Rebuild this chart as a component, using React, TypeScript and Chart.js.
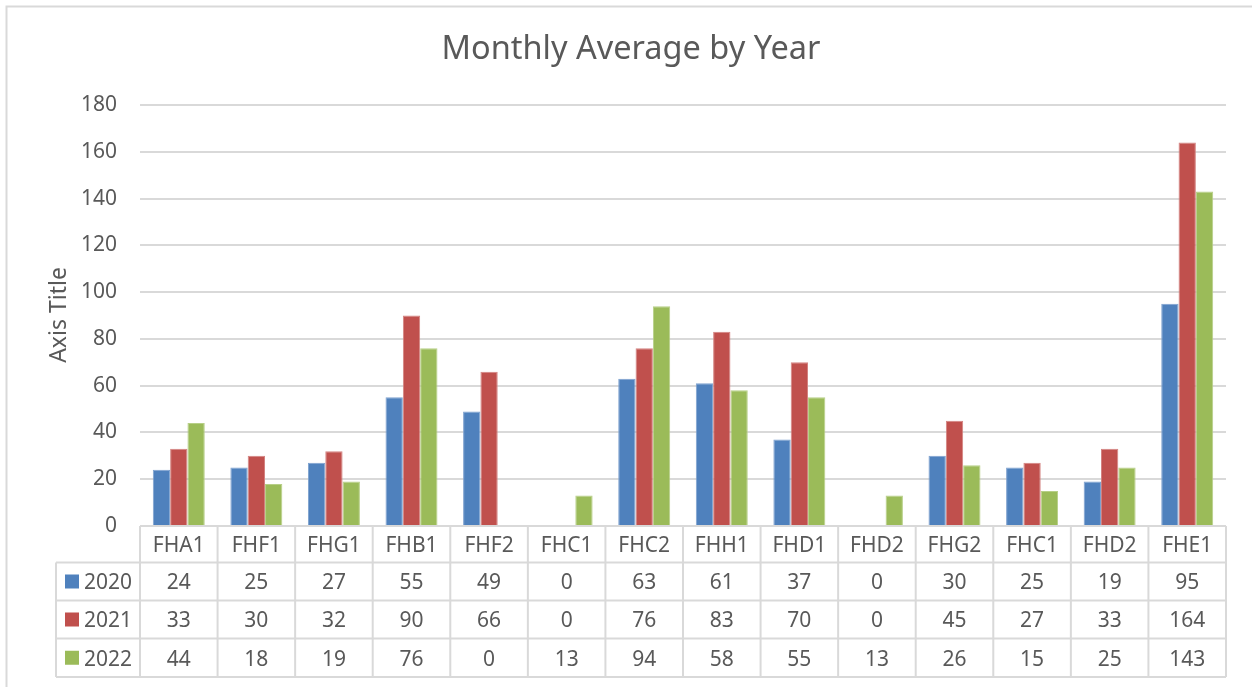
import React, { useEffect, useRef } from "react";
import { Chart, registerables } from "chart.js";

Chart.register(...registerables);

const categories = ["FHA1", "FHF1", "FHG1", "FHB1", "FHF2", "FHC1", "FHC2", "FHH1", "FHD1", "FHD2", "FHG2", "FHC1", "FHD2", "FHE1"];
const seriesNames = ["2020", "2021", "2022"];
const values2020 = [24, 25, 27, 55, 49, 0, 63, 61, 37, 0, 30, 25, 19, 95];
const values2021 = [33, 30, 32, 90, 66, 0, 76, 83, 70, 0, 45, 27, 33, 164];
const values2022 = [44, 18, 19, 76, 0, 13, 94, 58, 55, 13, 26, 15, 25, 143];
const seriesColors = ["#4F81BD", "#C0504D", "#9BBB59"];
const seriesBorders = ["#7ea1cf", "#d48381", "#b7cf87"];
const titleText = "Monthly Average by Year";
const axisTitleText = "Axis Title";

const FONT = "'Noto Sans', 'Open Sans', sans-serif";
const TEXT = "#595959";
const LINE = "#d9d9d9";

const allSeries = [values2020, values2021, values2022];

const tablePlugin = {
  id: "dataTable",
  afterDraw(chart: any) {
    const ctx = chart.ctx;
    const area = chart.chartArea;
    const xs = chart.scales.x;
    const n = categories.length;
    const catW = (area.right - area.left) / n;
    const top = area.bottom;
    const rowBounds = [top, top + 36.5, top + 74.5, top + 112.5, top + 151];
    const leftCol = 56;

    ctx.save();
    // outer chart border
    ctx.strokeStyle = LINE;
    ctx.lineWidth = 2;
    ctx.beginPath();
    ctx.moveTo(6.5, 700);
    ctx.lineTo(6.5, 6.5);
    ctx.lineTo(1300, 6.5);
    ctx.stroke();

    // title
    ctx.fillStyle = TEXT;
    ctx.font = `32.5px ${FONT}`;
    ctx.textAlign = "center";
    ctx.textBaseline = "middle";
    ctx.fillText(titleText, 631, 50);

    // axis title
    ctx.save();
    ctx.translate(59, 315);
    ctx.rotate(-Math.PI / 2);
    ctx.font = `23px ${FONT}`;
    ctx.fillText(axisTitleText, 0, 0);
    ctx.restore();

    // table lines
    ctx.strokeStyle = LINE;
    ctx.lineWidth = 2;
    ctx.beginPath();
    for (let i = 0; i <= n; i++) {
      const x = area.left + i * catW;
      ctx.moveTo(x, top);
      ctx.lineTo(x, rowBounds[4]);
    }
    ctx.moveTo(leftCol, rowBounds[1]);
    ctx.lineTo(leftCol, rowBounds[4]);
    for (let r = 1; r <= 4; r++) {
      ctx.moveTo(r === 1 ? area.left : leftCol, rowBounds[r]);
      ctx.lineTo(area.right, rowBounds[r]);
    }
    ctx.moveTo(leftCol, rowBounds[1]);
    ctx.lineTo(area.left, rowBounds[1]);
    ctx.stroke();

    // text
    ctx.font = `21px ${FONT}`;
    ctx.fillStyle = TEXT;
    ctx.textAlign = "center";
    ctx.textBaseline = "middle";
    for (let i = 0; i < n; i++) {
      const cx = xs.getPixelForValue(i);
      ctx.fillText(categories[i], cx, (rowBounds[0] + rowBounds[1]) / 2 + 1.5);
      for (let s = 0; s < allSeries.length; s++) {
        ctx.fillText(String(allSeries[s][i]), cx, (rowBounds[s + 1] + rowBounds[s + 2]) / 2 + 2);
      }
    }
    // legend keys
    ctx.textAlign = "left";
    for (let s = 0; s < seriesNames.length; s++) {
      const cy = (rowBounds[s + 1] + rowBounds[s + 2]) / 2;
      ctx.fillStyle = seriesColors[s];
      ctx.fillRect(65, cy - 7, 14, 14);
      ctx.fillStyle = TEXT;
      ctx.fillText(seriesNames[s], 84, cy + 2);
    }
    ctx.restore();
  },
};

export default function App() {
  const ref = useRef<HTMLCanvasElement | null>(null);
  useEffect(() => {
    if (!ref.current) return;
    const chart = new Chart(ref.current, {
      type: "bar",
      data: {
        labels: categories,
        datasets: seriesNames.map((name, s) => ({
          label: name,
          data: allSeries[s],
          backgroundColor: seriesColors[s],
          borderColor: seriesBorders[s],
          borderWidth: 1,
          barPercentage: 1.0,
          categoryPercentage: 0.67,
        })),
      },
      options: {
        responsive: false,
        animation: false,
        layout: { padding: { left: 0, right: 26, top: 105, bottom: 161 } },
        plugins: {
          legend: { display: false },
          title: { display: false },
          tooltip: { enabled: false },
        },
        scales: {
          x: {
            display: true,
            grid: { display: false },
            border: { display: false },
            ticks: { display: false },
            afterFit: (scale: any) => {
              scale.height = 0;
            },
          },
          y: {
            min: 0,
            max: 180,
            ticks: {
              stepSize: 20,
              color: TEXT,
              font: { family: FONT, size: 21 },
              padding: 23,
            },
            grid: { color: LINE, lineWidth: 2, drawTicks: false },
            border: { display: false },
            afterFit: (scale: any) => {
              scale.width = 140;
            },
          },
        },
      },
      plugins: [tablePlugin],
    });
    return () => chart.destroy();
  }, []);
  return (
    <div style={{ position: "fixed", left: 0, top: 0, width: 1252, height: 687, background: "#fff" }}>
      <canvas ref={ref} width={1252} height={687} style={{ display: "block" }} />
    </div>
  );
}
